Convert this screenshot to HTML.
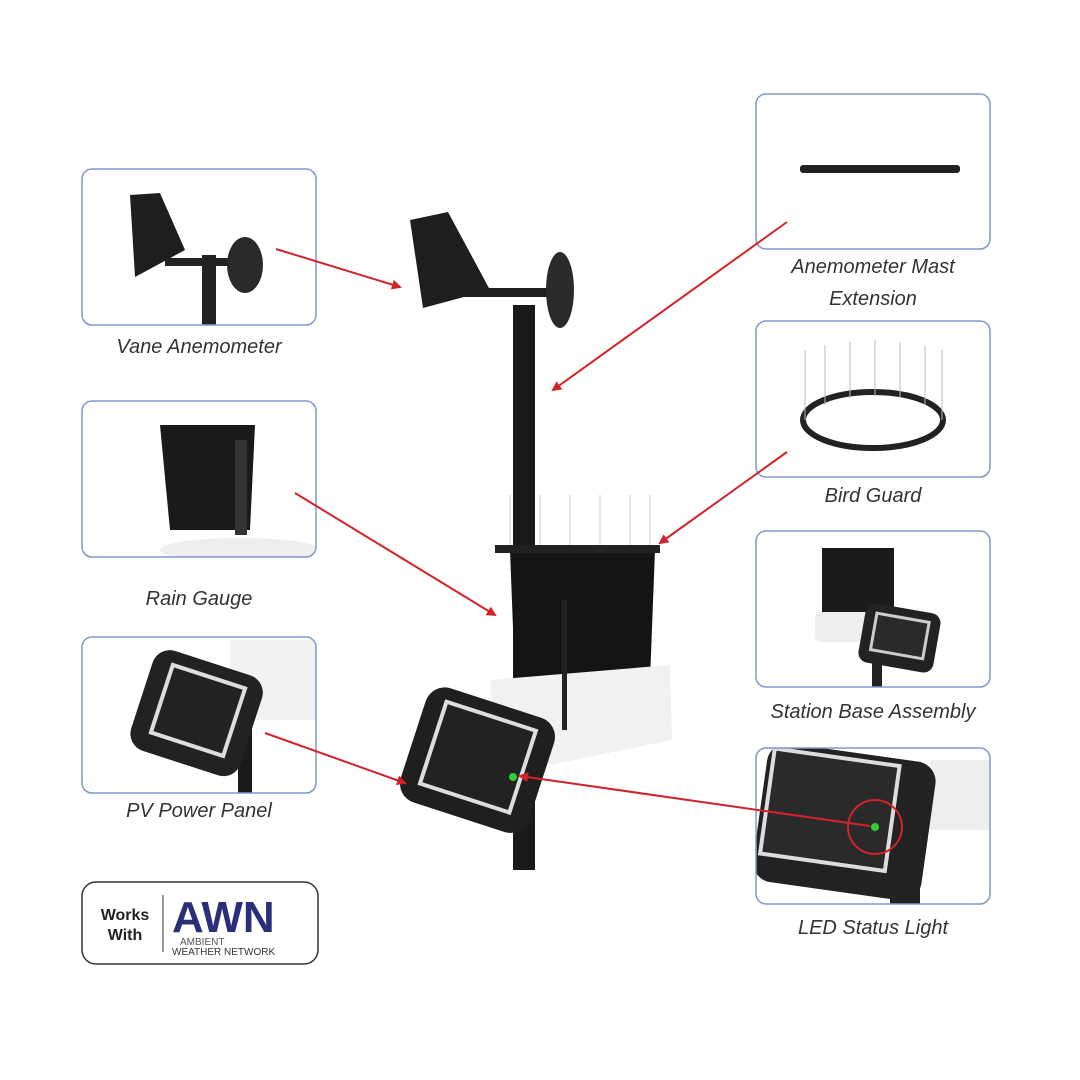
<!DOCTYPE html>
<html><head><meta charset="utf-8"><style>
body{margin:0;background:#fff;width:1080px;height:1080px;overflow:hidden}
svg{display:block}
text{font-family:"Liberation Sans",sans-serif}
.lb{font-style:italic;font-size:20px;fill:#333}
.bx{fill:none;stroke:#8497cc;stroke-width:1.5}
</style></head><body>
<svg width="1080" height="1080" viewBox="0 0 1080 1080">
<defs><marker id="ah" markerWidth="10" markerHeight="10" refX="8" refY="5" orient="auto" markerUnits="userSpaceOnUse"><path d="M0,0 L10,5 L0,10 z" fill="#d2232a"/></marker>
<clipPath id="c1"><rect x="82" y="169" width="234" height="156" rx="10"/></clipPath>
<clipPath id="c2"><rect x="82" y="401" width="234" height="156" rx="10"/></clipPath>
<clipPath id="c3"><rect x="82" y="637" width="234" height="156" rx="10"/></clipPath>
<clipPath id="c6"><rect x="756" y="531" width="234" height="156" rx="10"/></clipPath>
<clipPath id="c7"><rect x="756" y="748" width="234" height="156" rx="10"/></clipPath>
</defs>

<g clip-path="url(#c1)">
<rect x="202" y="255" width="14" height="70" fill="#222"/>
<path d="M130,195 L160,193 L185,250 L135,277 Z" fill="#1e1e1e"/>
<rect x="165" y="258" width="80" height="8" fill="#222"/>
<ellipse cx="245" cy="265" rx="18" ry="28" fill="#2a2a2a"/>
</g>
<g clip-path="url(#c2)">
<ellipse cx="240" cy="550" rx="80" ry="12" fill="#eee"/>
<path d="M160,425 L255,425 L250,530 L170,530 Z" fill="#1a1a1a"/>
<rect x="235" y="440" width="12" height="95" fill="#333"/>
</g>
<g clip-path="url(#c3)">
<rect x="230" y="640" width="86" height="80" fill="#f2f2f2"/>
<rect x="238" y="700" width="14" height="93" fill="#1a1a1a"/>
<g transform="rotate(18 195 710)"><rect x="140" y="660" width="115" height="105" rx="18" fill="#222"/><rect x="158" y="672" width="80" height="75" fill="#ddd"/><rect x="162" y="676" width="72" height="67" fill="#222"/></g>
</g>
<rect x="800" y="165" width="160" height="8" rx="3" fill="#222"/>
<ellipse cx="873" cy="420" rx="70" ry="28" fill="none" stroke="#222" stroke-width="6"/>
<g stroke="#bbb" stroke-width="1">
<line x1="805" y1="420" x2="805" y2="350"/><line x1="825" y1="405" x2="825" y2="345"/><line x1="850" y1="398" x2="850" y2="342"/><line x1="875" y1="396" x2="875" y2="340"/><line x1="900" y1="398" x2="900" y2="342"/><line x1="925" y1="405" x2="925" y2="345"/><line x1="942" y1="420" x2="942" y2="350"/></g>
<g clip-path="url(#c6)">
<rect x="822" y="548" width="72" height="70" fill="#1a1a1a"/>
<rect x="815" y="612" width="120" height="30" rx="6" fill="#eee"/>
<rect x="872" y="640" width="10" height="47" fill="#222"/>
<g transform="rotate(10 900 635)"><rect x="862" y="608" width="76" height="60" rx="10" fill="#222"/><rect x="872" y="616" width="56" height="40" fill="#ccc"/><rect x="875" y="619" width="50" height="34" fill="#2a2a2a"/></g>
</g>
<g clip-path="url(#c7)">
<rect x="930" y="760" width="60" height="70" fill="#eee"/>
<rect x="890" y="820" width="30" height="84" fill="#222"/>
<g transform="rotate(8 830 830)"><rect x="758" y="750" width="170" height="140" rx="20" fill="#222"/><rect x="762" y="755" width="130" height="110" fill="#ddd"/><rect x="766" y="759" width="122" height="102" fill="#2a2a2a"/></g>
<circle cx="875" cy="827" r="27" fill="none" stroke="#d2232a" stroke-width="2"/>
<circle cx="875" cy="827" r="4" fill="#3c3"/>
</g>

<rect class="bx" x="82" y="169" width="234" height="156" rx="10"/>
<rect class="bx" x="82" y="401" width="234" height="156" rx="10"/>
<rect class="bx" x="82" y="637" width="234" height="156" rx="10"/>
<rect class="bx" x="756" y="94" width="234" height="155" rx="10"/>
<rect class="bx" x="756" y="321" width="234" height="156" rx="10"/>
<rect class="bx" x="756" y="531" width="234" height="156" rx="10"/>
<rect class="bx" x="756" y="748" width="234" height="156" rx="10"/>

<rect x="513" y="305" width="22" height="565" fill="#1a1a1a"/>
<path d="M410,220 L448,212 L490,290 L423,308 Z" fill="#1e1e1e"/>
<rect x="445" y="288" width="110" height="9" fill="#1e1e1e"/>
<ellipse cx="560" cy="290" rx="14" ry="38" fill="#2a2a2a"/>
<g stroke="#ccc" stroke-width="1">
<line x1="510" y1="550" x2="510" y2="495"/><line x1="540" y1="545" x2="540" y2="495"/><line x1="570" y1="545" x2="570" y2="495"/><line x1="600" y1="545" x2="600" y2="495"/><line x1="630" y1="548" x2="630" y2="495"/><line x1="650" y1="550" x2="650" y2="495"/></g>
<path d="M510,550 L655,550 L650,680 L515,680 Z" fill="#141414"/>
<rect x="495" y="545" width="165" height="8" fill="#222"/>
<path d="M490,680 L670,665 L672,740 L550,765 L495,760 Z" fill="#f1f1f1"/>
<rect x="562" y="600" width="5" height="130" fill="#222"/>
<g transform="rotate(18 477 760)"><rect x="410" y="700" width="135" height="120" rx="20" fill="#1f1f1f"/><rect x="428" y="712" width="98" height="90" fill="#ddd"/><rect x="432" y="716" width="90" height="82" fill="#222"/></g>
<circle cx="513" cy="777" r="4" fill="#3c3"/>

<g stroke="#d2232a" stroke-width="2" marker-end="url(#ah)">
<line x1="276" y1="249" x2="400" y2="287"/>
<line x1="787" y1="222" x2="553" y2="390"/>
<line x1="787" y1="452" x2="660" y2="543"/>
<line x1="295" y1="493" x2="495" y2="615"/>
<line x1="265" y1="733" x2="405" y2="783"/>
<line x1="870" y1="826" x2="520" y2="776"/>
</g>

<g text-anchor="middle">
<text x="199" y="353" class="lb">Vane Anemometer</text>
<text x="199" y="605" class="lb">Rain Gauge</text>
<text x="199" y="817" class="lb">PV Power Panel</text>
<text x="873" y="273" class="lb">Anemometer Mast</text>
<text x="873" y="305" class="lb">Extension</text>
<text x="873" y="502" class="lb">Bird Guard</text>
<text x="873" y="718" class="lb">Station Base Assembly</text>
<text x="873" y="934" class="lb">LED Status Light</text>
</g>

<rect x="82" y="882" width="236" height="82" rx="14" fill="#fff" stroke="#333" stroke-width="1.5"/>
<text x="125" y="920" font-size="16" font-weight="bold" fill="#222" text-anchor="middle">Works</text>
<text x="125" y="940" font-size="16" font-weight="bold" fill="#222" text-anchor="middle">With</text>
<line x1="163" y1="895" x2="163" y2="952" stroke="#333"/>
<text x="172" y="932" font-size="44" font-weight="bold" fill="#2b2f7a">AWN</text>
<text x="180" y="945" font-size="10" fill="#555">AMBIENT</text>
<text x="172" y="955" font-size="10" fill="#333">WEATHER NETWORK</text>
</svg>
</body></html>
